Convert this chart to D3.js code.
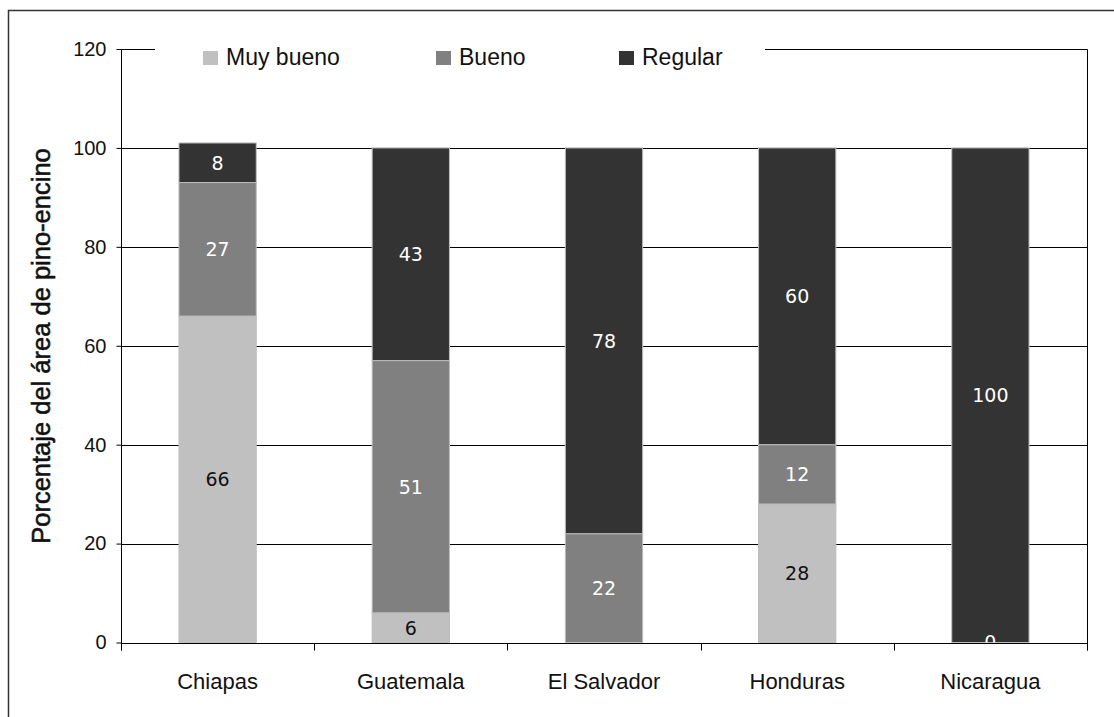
<!DOCTYPE html>
<html>
<head>
<meta charset="utf-8">
<script src="https://cdn.jsdelivr.net/npm/d3@7"></script>
<style>
  html, body { margin: 0; padding: 0; background: #fff; }
  svg { display: block; }
</style>
</head>
<body>
<svg id="chart" width="1114" height="717"></svg>
<script>
// Estado de conservación del bosque de pino-encino por país (% del área)
const categories = ["Chiapas", "Guatemala", "El Salvador", "Honduras", "Nicaragua"];
const seriesNames = ["Muy bueno", "Bueno", "Regular"];
const muyBueno = [66, 6, null, 28, null];
const bueno = [27, 51, 22, 12, 0];
const regular = [8, 43, 78, 60, 100];
const yTicks = [0, 20, 40, 60, 80, 100, 120];

const colors = { "Muy bueno": "#c0c0c0", "Bueno": "#808080", "Regular": "#333333" };
const labelColors = { "Muy bueno": "#111", "Bueno": "#fff", "Regular": "#fff" };

const svg = d3.select("#chart");
const plot = { left: 121, right: 1087, top: 49, bottom: 642.5 };

const x = d3.scaleBand()
  .domain(categories)
  .range([plot.left, plot.right])
  .paddingInner(0.6)
  .paddingOuter(0.3);

const y = d3.scaleLinear().domain([0, 120]).range([plot.bottom, plot.top]);
const crisp = v => Math.round(v) + 0.5;

// outer frame
svg.append("rect")
  .attr("x", 8.5).attr("y", 10.5)
  .attr("width", 1120).attr("height", 720)
  .attr("fill", "none").attr("stroke", "#333").attr("stroke-width", 1.5);

// horizontal gridlines
svg.append("g").selectAll("line")
  .data(yTicks.filter(t => t > 0 && t < 120))
  .join("line")
  .attr("x1", plot.left).attr("x2", plot.right)
  .attr("y1", d => crisp(y(d))).attr("y2", d => crisp(y(d)))
  .attr("stroke", "#000").attr("stroke-width", 1);

// plot frame: top and right edges
svg.append("path")
  .attr("d", `M${plot.left},${crisp(y(120))}H${crisp(plot.right)}V${crisp(plot.bottom) + 7}`)
  .attr("fill", "none").attr("stroke", "#000").attr("stroke-width", 1);

// stacked data
const rows = categories.map((c, i) => ({
  category: c,
  "Muy bueno": muyBueno[i],
  "Bueno": bueno[i],
  "Regular": regular[i]
}));
const stack = d3.stack().keys(seriesNames).value((d, k) => d[k] == null ? 0 : d[k]);
const layers = stack(rows);

svg.append("clipPath").attr("id", "plotClip")
  .append("rect")
  .attr("x", plot.left).attr("y", plot.top)
  .attr("width", plot.right - plot.left).attr("height", plot.bottom - plot.top);

const barG = svg.append("g");
layers.forEach(layer => {
  const key = layer.key;
  barG.append("g").selectAll("rect")
    .data(layer.filter(d => d.data[key] != null))
    .join("rect")
    .attr("x", d => x(d.data.category))
    .attr("width", x.bandwidth())
    .attr("y", d => y(d[1]))
    .attr("height", d => y(d[0]) - y(d[1]))
    .attr("fill", colors[key])
    .attr("stroke", "#bdbdbd")
    .attr("stroke-width", 1);
});

// axes
const yAxis = d3.axisLeft(y).tickValues(yTicks).tickSize(5).tickPadding(10).tickSizeOuter(0);
const yG = svg.append("g").attr("transform", `translate(${crisp(plot.left)},0)`).call(yAxis);
yG.select(".domain").attr("d", `M0,${crisp(y(120))}V${crisp(plot.bottom) + 7}`).attr("stroke", "#000");
yG.selectAll(".tick line").attr("stroke", "#000");
yG.selectAll(".tick text")
  .attr("font-family", "'Liberation Sans', Arial, sans-serif")
  .attr("font-size", 20).attr("fill", "#111");

// x axis baseline and category-boundary ticks
svg.append("line")
  .attr("x1", plot.left).attr("x2", plot.right)
  .attr("y1", crisp(plot.bottom)).attr("y2", crisp(plot.bottom))
  .attr("stroke", "#000");
const half = x.step() * x.paddingInner() / 2;
const bounds = categories.map(c => x(c) - half).concat([plot.right]);
svg.append("g").selectAll("line")
  .data(bounds)
  .join("line")
  .attr("x1", d => crisp(d)).attr("x2", d => crisp(d))
  .attr("y1", crisp(plot.bottom)).attr("y2", crisp(plot.bottom) + 7)
  .attr("stroke", "#000");

svg.append("g").selectAll("text")
  .data(categories)
  .join("text")
  .attr("x", d => x(d) + x.bandwidth() / 2)
  .attr("y", 689)
  .attr("text-anchor", "middle")
  .attr("font-family", "'Liberation Sans', Arial, sans-serif")
  .attr("font-size", 22).attr("fill", "#111")
  .text(d => d);

// value labels inside segments
const lblG = svg.append("g").attr("clip-path", "url(#plotClip)");
layers.forEach(layer => {
  const key = layer.key;
  lblG.append("g").selectAll("text")
    .data(layer.filter(d => d.data[key] != null))
    .join("text")
    .attr("x", d => x(d.data.category) + x.bandwidth() / 2)
    .attr("y", d => y((d[0] + d[1]) / 2))
    .attr("dy", "0.36em")
    .attr("text-anchor", "middle")
    .attr("font-family", "'DejaVu Sans', Verdana, sans-serif")
    .attr("font-size", 19)
    .attr("fill", labelColors[key])
    .text(d => d.data[key]);
});

// y axis title (medium weight)
svg.append("text")
  .attr("transform", `translate(50,346) rotate(-90)`)
  .attr("text-anchor", "middle")
  .attr("font-family", "'Liberation Sans', Arial, sans-serif")
  .attr("font-size", 25.5).attr("fill", "#111")
  .attr("stroke", "#111").attr("stroke-width", 0.55)
  .text("Porcentaje del área de pino-encino");

// legend (white panel over the top edge of the frame)
svg.append("rect")
  .attr("x", 155).attr("y", 30)
  .attr("width", 610).attr("height", 50)
  .attr("fill", "#fff");
const legendX = [203, 436, 619];
const lg = svg.append("g").selectAll("g")
  .data(seriesNames)
  .join("g")
  .attr("transform", (d, i) => `translate(${legendX[i]},0)`);
lg.append("rect")
  .attr("x", 0).attr("y", 51)
  .attr("width", 15).attr("height", 14)
  .attr("fill", d => colors[d]);
lg.append("text")
  .attr("x", 23).attr("y", 65)
  .attr("font-family", "'Liberation Sans', Arial, sans-serif")
  .attr("font-size", 23).attr("fill", "#111")
  .text(d => d);
</script>
</body>
</html>
